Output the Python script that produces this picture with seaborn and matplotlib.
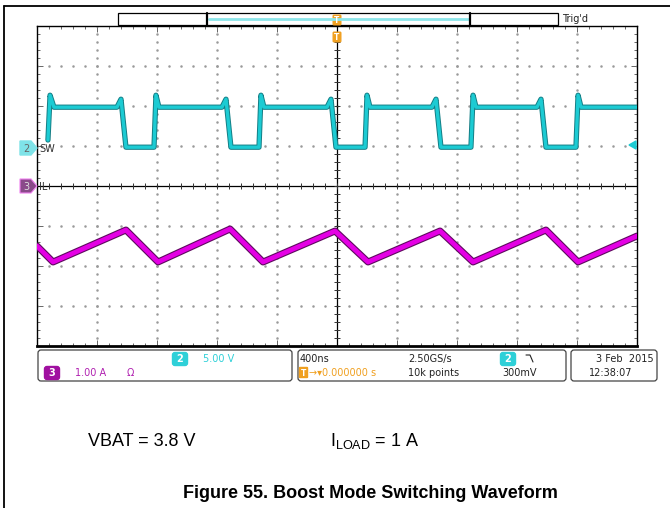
import numpy as np
import seaborn as sns
import matplotlib.pyplot as plt
import matplotlib.patheffects as pe
from matplotlib.patches import Rectangle, FancyBboxPatch, Polygon

# ch2: switch node voltage (us, V)
sw_time = [-1.927, -1.913, -1.887,
           -1.467, -1.440, -1.407, -1.220, -1.207, -1.187,
           -0.767, -0.740, -0.707, -0.520, -0.507, -0.487,
           -0.067, -0.040, -0.007, 0.187, 0.200, 0.220,
           0.633, 0.660, 0.693, 0.893, 0.907, 0.927,
           1.333, 1.360, 1.393, 1.593, 1.607, 1.627,
           2.000]
sw_volt = [1.0, 6.6, 5.1,
           5.1, 6.1, 0.1, 0.1, 6.6, 5.1,
           5.1, 6.1, 0.1, 0.1, 6.6, 5.1,
           5.1, 6.1, 0.1, 0.1, 6.6, 5.1,
           5.1, 6.1, 0.1, 0.1, 6.6, 5.1,
           5.1, 6.1, 0.1, 0.1, 6.6, 5.1,
           5.1]

# ch3: inductor current, probe reversed (us, A)
il_time = [-2.0, -1.893, -1.407, -1.193, -0.713, -0.493, -0.013,
           0.207, 0.687, 0.907, 1.393, 1.607, 2.0]
il_amp = [-1.5, -1.9, -1.1, -1.9, -1.075, -1.9, -1.125,
          -1.9, -1.125, -1.9, -1.1, -1.9, -1.25]

t_div = 0.4      # us/div
sw_div = 5.0     # V/div
il_div = 1.0     # A/div
sw_pos = 0.95    # ground marker position, div
il_pos = 0.0

cyan = "#1ccbd3"
magenta = "#e400e4"
orange = "#f0a020"

sns.set_style("white")
plt.rcParams["font.family"] = ["DejaVu Sans"]
plt.rcParams["text.color"] = "black"
plt.rcParams["mathtext.fontset"] = "custom"
plt.rcParams["mathtext.rm"] = "Liberation Sans"

fig = plt.figure(figsize=(6.7, 5.08), dpi=100)
W, H = 670, 508
rect = [37 / W, 1 - 346 / H, 600 / W, 320 / H]

# graticule
ax = fig.add_axes(rect, zorder=1)
ax.set_xlim(-5, 5)
ax.set_ylim(-4, 4)
for s in ax.spines.values():
    s.set_color("black")
    s.set_linewidth(1.0)
ax.spines["bottom"].set_linewidth(2)
ax.set_xticks(np.arange(-5, 6, 1))
ax.set_yticks(np.arange(-4, 5, 1))
ax.set_xticks(np.arange(-5, 5.01, 0.2), minor=True)
ax.set_yticks(np.arange(-4, 4.01, 0.2), minor=True)
ax.tick_params(which="both", direction="in", top=True, right=True, bottom=True, left=True,
               labelbottom=False, labelleft=False, color="#666666", width=0.7)
ax.tick_params(which="major", length=4)
ax.tick_params(which="minor", length=2.5)
dots = np.arange(-4, 4.01, 0.2)
for gx in range(-4, 5):
    if gx != 0:
        ax.plot(np.full_like(dots, gx), dots, ls="none", marker="s", ms=0.75, color="#9a9a9a")
dots_x = np.arange(-5, 5.01, 0.2)
for gy in range(-3, 4):
    if gy != 0:
        ax.plot(dots_x, np.full_like(dots_x, gy), ls="none", marker="s", ms=0.75, color="#9a9a9a")
ax.axhline(0, color="black", lw=0.9)
ax.axvline(0, color="black", lw=0.9)
ax.plot(dots_x, np.zeros_like(dots_x), ls="none", marker="|", ms=4, mew=0.7, color="#333333")
ax.plot(np.zeros_like(dots), dots, ls="none", marker="_", ms=4, mew=0.7, color="#333333")

# traces
ax_sw = fig.add_axes(rect, zorder=2)
ax_sw.patch.set_alpha(0)
ax_sw.set_axis_off()
ax_sw.set_xlim(-5 * t_div, 5 * t_div)
ax_sw.set_ylim((-4 - sw_pos) * sw_div, (4 - sw_pos) * sw_div)
sns.lineplot(x=sw_time, y=sw_volt, ax=ax_sw, sort=False, estimator=None, color=cyan,
             lw=2.4, path_effects=[pe.Stroke(linewidth=3.8, foreground="#157e85"), pe.Normal()])

ax_il = fig.add_axes(rect, zorder=3)
ax_il.patch.set_alpha(0)
ax_il.set_axis_off()
ax_il.set_xlim(-5 * t_div, 5 * t_div)
ax_il.set_ylim((-4 - il_pos) * il_div, (4 - il_pos) * il_div)
sns.lineplot(x=il_time, y=il_amp, ax=ax_il, sort=False, estimator=None, color=magenta,
             lw=3.4, path_effects=[pe.Stroke(linewidth=5.0, foreground="#5e0a5e"), pe.Normal()])

# overlay in pixel coordinates
ov = fig.add_axes([0, 0, 1, 1], zorder=5)
ov.patch.set_alpha(0)
ov.set_xlim(0, W)
ov.set_ylim(H, 0)
ov.set_axis_off()

# page frame
ov.plot([4, W], [6, 6], color="black", lw=1.3)
ov.plot([4, 4], [6, H], color="black", lw=1.3)

# record bar
ov.add_patch(Rectangle((118, 13), 440, 12, fc="white", ec="black", lw=0.9))
ov.plot([209, 468], [19, 19], color="#8ce6ea", lw=2)
ov.plot([207, 207], [13, 25], color="black", lw=1.6)
ov.plot([470, 470], [13, 25], color="black", lw=1.6)
ov.text(562, 19.5, "Trig'd", fontsize=7, va="center", ha="left", color="#222222")


def trig_marker(y):
    ov.add_patch(FancyBboxPatch((334, y - 4), 6, 8, boxstyle="round,pad=0.8", fc=orange, ec=orange))
    ov.text(337, y + 0.5, "T", fontsize=5.5, color="white", fontweight="bold", ha="center", va="center")


trig_marker(20)
trig_marker(37)

# channel markers
ov.add_patch(Polygon([[20, 141], [31, 141], [37, 148], [31, 155], [20, 155]], closed=True,
                     fc="#7fe3e8", ec="#7fe3e8"))
ov.text(26, 148.5, "2", fontsize=7, color="#666666", ha="center", va="center")
ov.text(39, 148.5, "SW", fontsize=7, color="#333333", ha="left", va="center")
ov.add_patch(Polygon([[20, 179], [31, 179], [37, 186], [31, 193], [20, 193]], closed=True,
                     fc="#8a4a8a", ec="#f080f0", lw=0.8))
ov.text(26, 186.5, "3", fontsize=7, color="#dddddd", ha="center", va="center")
ov.text(39, 186.5, "IL", fontsize=7, color="#333333", ha="left", va="center")
ov.add_patch(Polygon([[629, 145], [636, 141], [636, 149]], closed=True, fc=cyan, ec=cyan))

# status bar
for x0, x1 in [(38, 292), (298, 566), (571, 657)]:
    ov.add_patch(FancyBboxPatch((x0 + 3, 353), x1 - x0 - 6, 25, boxstyle="round,pad=3",
                                fc="white", ec="#444444", lw=0.9))


def badge(x, y, label, color):
    ov.add_patch(FancyBboxPatch((x - 5, y - 4), 10, 8, boxstyle="round,pad=2.5", fc=color, ec=color))
    ov.text(x, y + 0.5, label, fontsize=7, color="white", ha="center", va="center", fontweight="bold")


fs = 7
badge(180, 359, "2", "#2ed0d8")
ov.text(203, 359, "5.00 V", fontsize=fs, color="#2ed0d8", va="center")
badge(52, 373, "3", "#a010a0")
ov.text(75, 373, "1.00 A", fontsize=fs, color="#b020b0", va="center")
ov.text(127, 373, "Ω", fontsize=fs, color="#b020b0", va="center")

ov.text(300, 359, "400ns", fontsize=fs, color="#222222", va="center")
ov.add_patch(FancyBboxPatch((300, 368), 7, 9, boxstyle="round,pad=0.5", fc=orange, ec=orange))
ov.text(303.5, 373, "T", fontsize=5.5, color="white", ha="center", va="center", fontweight="bold")
ov.text(309, 373, "→▾0.000000 s", fontsize=fs, color=orange, va="center")
ov.text(408, 359, "2.50GS/s", fontsize=fs, color="#222222", va="center")
ov.text(408, 373, "10k points", fontsize=fs, color="#222222", va="center")
badge(508, 359, "2", "#2ed0d8")
ov.plot([526, 530, 533], [355, 355, 362], color="#222222", lw=0.8)
ov.text(502, 373, "300mV", fontsize=fs, color="#222222", va="center")

ov.text(654, 359, "3 Feb  2015", fontsize=fs, color="#222222", va="center", ha="right")
ov.text(589, 373, "12:38:07", fontsize=fs, color="#222222", va="center", ha="left")

# conditions and caption
ov.text(88, 441, "VBAT = 3.8 V", fontsize=13, family="Liberation Sans", color="black",
        va="center", ha="left")
ov.text(330, 441, r"$\mathrm{I_{LOAD}}$ = 1 A", fontsize=13, family="Liberation Sans",
        color="black", va="center", ha="left")
ov.text(370, 493, "Figure 55. Boost Mode Switching Waveform", fontsize=13,
        family="Liberation Sans", fontweight="bold", color="black", va="center", ha="center")

fig.savefig("out.png", dpi=100)
